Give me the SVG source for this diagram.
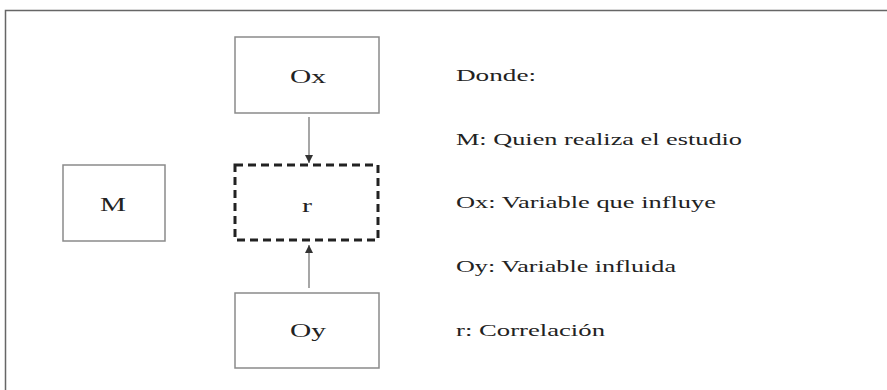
<svg xmlns="http://www.w3.org/2000/svg" width="887" height="390" viewBox="0 0 887 390">
<style>
.box{fill:#fff;stroke:#8a8a8a;stroke-width:1.5}
.dash{fill:#fff;stroke:#222;stroke-width:3;stroke-dasharray:8 5}
.lbl{font-family:"Liberation Serif","Times New Roman",serif;font-size:19px;fill:#222;text-anchor:middle}
.leg{font-family:"Liberation Serif","Times New Roman",serif;font-size:17px;fill:#222}
.conn{stroke:#777;stroke-width:1.3;fill:none}
</style>
<defs>
<marker id="ah" viewBox="0 0 10 10" refX="10" refY="5" markerWidth="8" markerHeight="8" markerUnits="userSpaceOnUse" orient="auto">
<path d="M0,0 L10,5 L0,10 Z" fill="#333"/>
</marker>
</defs>
<rect x="0" y="0" width="887" height="390" fill="#fff"/>
<path d="M5.5,400 L5.5,10.5 L900,10.5" fill="none" stroke="#666" stroke-width="1.5"/>
<g id="node-ox">
<rect class="box" x="235" y="37" width="144" height="76"/>
<text class="lbl" x="308" y="83" textLength="36" lengthAdjust="spacingAndGlyphs">Ox</text>
</g>
<g id="node-r">
<rect class="dash" x="235" y="165" width="143" height="75"/>
<text class="lbl" x="307" y="212" textLength="10" lengthAdjust="spacingAndGlyphs">r</text>
</g>
<g id="node-oy">
<rect class="box" x="235" y="293" width="144" height="75"/>
<text class="lbl" x="308" y="337" textLength="36" lengthAdjust="spacingAndGlyphs">Oy</text>
</g>
<g id="node-m">
<rect class="box" x="63" y="165" width="102" height="76"/>
<text class="lbl" x="113" y="211" textLength="26" lengthAdjust="spacingAndGlyphs">M</text>
</g>
<g id="connectors">
<line class="conn" x1="309" y1="117" x2="309" y2="163" marker-end="url(#ah)"/>
<line class="conn" x1="309" y1="288" x2="309" y2="245" marker-end="url(#ah)"/>
</g>
<g id="legend">
<text class="leg" x="456" y="81" textLength="80" lengthAdjust="spacingAndGlyphs">Donde:</text>
<text class="leg" x="456" y="145" textLength="286" lengthAdjust="spacingAndGlyphs">M: Quien realiza el estudio</text>
<text class="leg" x="456" y="208" textLength="260" lengthAdjust="spacingAndGlyphs">Ox: Variable que influye</text>
<text class="leg" x="456" y="272" textLength="220" lengthAdjust="spacingAndGlyphs">Oy: Variable influida</text>
<text class="leg" x="456" y="336" textLength="149" lengthAdjust="spacingAndGlyphs">r: Correlación</text>
</g>
</svg>
